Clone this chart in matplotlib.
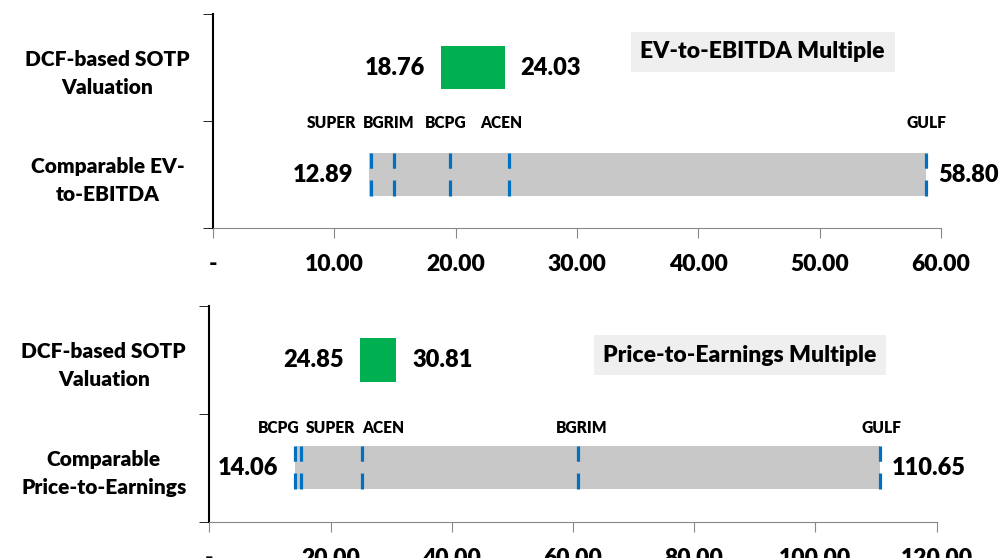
import numpy as np
import matplotlib
matplotlib.use('Agg')
import matplotlib.pyplot as plt

plt.rcParams['font.family'] = ['Lato', 'DejaVu Sans']
plt.rcParams['font.weight'] = 'heavy'
plt.rcParams['lines.scale_dashes'] = False

# ---- data ----
categories_ev = ['Comparable EV-\nto-EBITDA', 'DCF-based SOTP\nValuation']
categories_pe = ['Comparable\nPrice-to-Earnings', 'DCF-based SOTP\nValuation']

dcf_ev = [18.76, 24.03]
comp_ev = [12.89, 58.80]
peers_ev = ['SUPER', 'BGRIM', 'BCPG', 'ACEN', 'GULF']
peers_ev_val = [13.0, 14.9, 19.5, 24.4, 58.80]

dcf_pe = [24.85, 30.81]
comp_pe = [14.06, 110.65]
peers_pe = ['BCPG', 'SUPER', 'ACEN', 'BGRIM', 'GULF']
peers_pe_val = [14.06, 15.1, 25.2, 60.8, 110.65]

ev_ticks = [0, 10, 20, 30, 40, 50, 60]
pe_ticks = [0, 20, 40, 60, 80, 100, 120]

green = '#00B050'
grey = '#C8C8C8'
blue = '#0070C0'


def fmt(v):
    return '-' if v == 0 else '%.2f' % v


def panel(ax, cats, dcf, comp, peers, peer_vals, label_shift, label_y, ticks, title, title_x, title_y):
    ax.barh(1.5, dcf[1] - dcf[0], left=dcf[0], height=0.4, color=green)
    ax.barh(0.5, comp[1] - comp[0], left=comp[0], height=0.4, color=grey)
    ax.vlines(peer_vals, 0.3, 0.7, colors=blue, linewidth=2.3,
              linestyles=[(0, (11.5, 8.5))])
    span = ticks[-1]
    gap = 0.022 * span
    for name, v, s in zip(peers, peer_vals, label_shift):
        ax.text(v + s * span, label_y, name, ha='center', va='center', fontsize=11.2)
    ax.text(dcf[0] - gap, 1.5, '%.2f' % dcf[0], ha='right', va='center', fontsize=17)
    ax.text(dcf[1] + gap, 1.5, '%.2f' % dcf[1], ha='left', va='center', fontsize=17)
    ax.text(comp[0] - gap, 0.5, '%.2f' % comp[0], ha='right', va='center', fontsize=17)
    ax.text(comp[1] + 0.016 * span, 0.5, '%.2f' % comp[1], ha='left', va='center', fontsize=17)
    ax.text(title_x, title_y, title, ha='center', va='center', fontsize=16.5,
            bbox=dict(boxstyle='square,pad=0.42', facecolor='#EFEFEF', edgecolor='none'))

    ax.set_xlim(0, span)
    ax.set_ylim(0, 2)
    ax.set_xticks(ticks)
    ax.set_xticklabels([fmt(t) for t in ticks], fontsize=16.5)
    ax.tick_params(axis='x', length=7, color='#888888', pad=12)
    ax.set_yticks([0.5, 1.5])
    ax.set_yticklabels(cats, fontsize=15, ha='center', multialignment='center',
                       linespacing=1.55)
    ax.tick_params(axis='y', length=0, pad=76)
    ax.set_yticks([0, 1, 2], minor=True)
    ax.tick_params(axis='y', which='minor', length=7, color='black')
    ax.spines['top'].set_visible(False)
    ax.spines['right'].set_visible(False)
    ax.spines['left'].set_color('black')
    ax.spines['left'].set_linewidth(1.5)
    ax.spines['bottom'].set_color('#888888')


fig = plt.figure(figsize=(10, 5.58), dpi=100)
ax1 = fig.add_axes([0.213, 0.5914, 0.728, 0.3835])
ax2 = fig.add_axes([0.2093, 0.065, 0.7272, 0.3866])

panel(ax1, categories_ev, dcf_ev, comp_ev, peers_ev, peers_ev_val,
      [-0.0545, -0.0065, -0.006, -0.011, 0.0], 0.98, ev_ticks,
      'EV-to-EBITDA Multiple', 45.3, 1.645)
panel(ax2, categories_pe, dcf_pe, comp_pe, peers_pe, peers_pe_val,
      [-0.022, 0.041, 0.029, 0.005, 0.002], 0.87, pe_ticks,
      'Price-to-Earnings Multiple', 87.6, 1.545)

fig.savefig('out.png', dpi=100)
